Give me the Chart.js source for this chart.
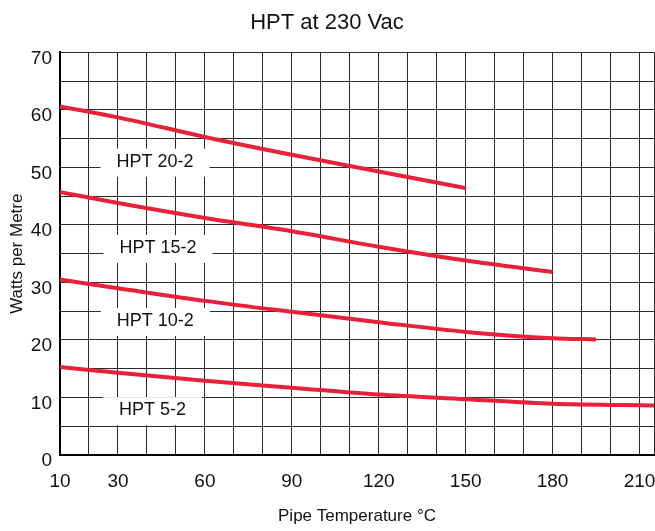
<!DOCTYPE html>
<html>
<head>
<meta charset="utf-8">
<title>HPT at 230 Vac</title>
<script src="https://cdn.jsdelivr.net/npm/chart.js@4.4.0/dist/chart.umd.min.js"></script>
<style>
  html, body { margin: 0; padding: 0; background: #fff; }
  #wrap { width: 655px; height: 531px; position: relative; }
</style>
</head>
<body>
<div id="wrap"><canvas id="chart-hpt"></canvas></div>
<script>
  'use strict';

  // ===========================================================================
  // DATA
  // ===========================================================================

  const TEMP_20 = [10, 30, 60, 90, 120, 150];
  const WATTS_20 = [60.6, 58.7, 55.3, 52.2, 49.3, 46.4];

  const TEMP_15 = [10, 30, 60, 90, 120, 150, 180];
  const WATTS_15 = [45.7, 43.8, 41.2, 38.9, 36.2, 33.8, 31.8];

  const TEMP_10 = [10, 30, 60, 90, 120, 150, 180, 195];
  const WATTS_10 = [30.5, 29.0, 26.8, 24.9, 23.1, 21.4, 20.3, 20.1];

  const TEMP_5 = [10, 30, 60, 90, 120, 150, 180, 215];
  const WATTS_5 = [15.3, 14.3, 12.9, 11.7, 10.5, 9.7, 8.9, 8.6];

  const X_TICK_LABELS = [10, 30, 60, 90, 120, 150, 180, 210];
  const Y_TICK_LABELS = [0, 10, 20, 30, 40, 50, 60, 70];

  // Curve names written on the grid, anchored in data units.
  const CURVE_NAMES = ['HPT 20-2', 'HPT 15-2', 'HPT 10-2', 'HPT 5-2'];
  const NAME_X = [42.8, 43.8, 42.9, 41.9];
  const NAME_Y = [51.0, 36.0, 23.3, 7.8];

  // ===========================================================================
  // HELPERS
  // ===========================================================================

  const FONT = "'Liberation Sans', Arial, sans-serif";
  const RED = '#e8203a';

  function toPoints(xs, ys) {
    return xs.map((x, i) => ({ x: x, y: ys[i] }));
  }

  function series(label, xs, ys) {
    return {
      label: label,
      data: toPoints(xs, ys),
      borderColor: RED,
      backgroundColor: RED,
      borderWidth: 4,
      pointRadius: 0,
      cubicInterpolationMode: 'monotone',
      fill: false,
      clip: false,
    };
  }

  const curveNames = {
    id: 'curveNames',
    afterDatasetsDraw(chart) {
      const ctx = chart.ctx;
      const xs = chart.scales.x;
      const ys = chart.scales.y;
      ctx.save();
      ctx.font = '18px ' + FONT;
      ctx.textAlign = 'center';
      ctx.textBaseline = 'middle';
      CURVE_NAMES.forEach((name, i) => {
        const cx = xs.getPixelForValue(NAME_X[i]);
        const cy = ys.getPixelForValue(NAME_Y[i]);
        const w = ctx.measureText(name).width + 32;
        const h = 28;
        ctx.fillStyle = '#fff';
        ctx.fillRect(cx - w / 2, cy - h / 2 + 1, w, h);
        ctx.fillStyle = '#111';
        ctx.fillText(name, cx, cy);
      });
      ctx.restore();
    },
  };

  // ===========================================================================
  // CHART
  // ===========================================================================

  new Chart(document.getElementById('chart-hpt'), {
    type: 'line',
    data: {
      datasets: [
        series('HPT 20-2', TEMP_20, WATTS_20),
        series('HPT 15-2', TEMP_15, WATTS_15),
        series('HPT 10-2', TEMP_10, WATTS_10),
        series('HPT 5-2', TEMP_5, WATTS_5),
      ],
    },
    options: {
      responsive: true,
      maintainAspectRatio: false,
      animation: false,
      layout: { padding: { left: 0, right: 1, top: 0, bottom: 0 } },
      plugins: {
        legend: { display: false },
        tooltip: { enabled: false },
        title: {
          display: true,
          text: 'HPT at 230 Vac',
          color: '#111',
          font: { family: FONT, size: 22, weight: 'normal' },
          padding: { top: 10, bottom: 16 },
        },
      },
      scales: {
        x: {
          type: 'linear',
          min: 10,
          max: 215,
          afterBuildTicks(scale) {
            const ticks = [];
            for (let v = 10; v <= 210; v += 10) ticks.push({ value: v });
            ticks.push({ value: 215 });
            scale.ticks = ticks;
          },
          afterFit(scale) {
            scale.height = 76;
            // Labels sit inside the plot width, no side padding needed.
            scale.paddingLeft = 0;
            scale.paddingRight = 0;
          },
          grid: { color: '#2a2a2a', lineWidth: 1, drawTicks: false },
          border: { color: '#000', width: 2 },
          ticks: {
            padding: 15,
            color: '#111',
            font: { family: FONT, size: 19 },
            maxRotation: 0,
            autoSkip: false,
            callback: (v) => (X_TICK_LABELS.includes(v) ? String(v) : ''),
          },
          title: {
            display: true,
            text: 'Pipe Temperature °C',
            color: '#111',
            font: { family: FONT, size: 17 },
            padding: { top: 0, bottom: 4 },
          },
        },
        y: {
          min: 0,
          max: 70,
          afterFit(scale) { scale.width = 60; },
          grid: { color: '#2a2a2a', lineWidth: 1, drawTicks: false },
          border: { color: '#000', width: 2 },
          ticks: {
            stepSize: 5,
            padding: 8,
            labelOffset: 6,
            color: '#111',
            font: { family: FONT, size: 19 },
            callback: (v) => (Y_TICK_LABELS.includes(v) ? String(v) : ''),
          },
          title: {
            display: true,
            text: 'Watts per Metre',
            color: '#111',
            font: { family: FONT, size: 17 },
            padding: { top: 7, bottom: 0 },
          },
        },
      },
    },
    plugins: [curveNames],
  });
</script>
</body>
</html>
